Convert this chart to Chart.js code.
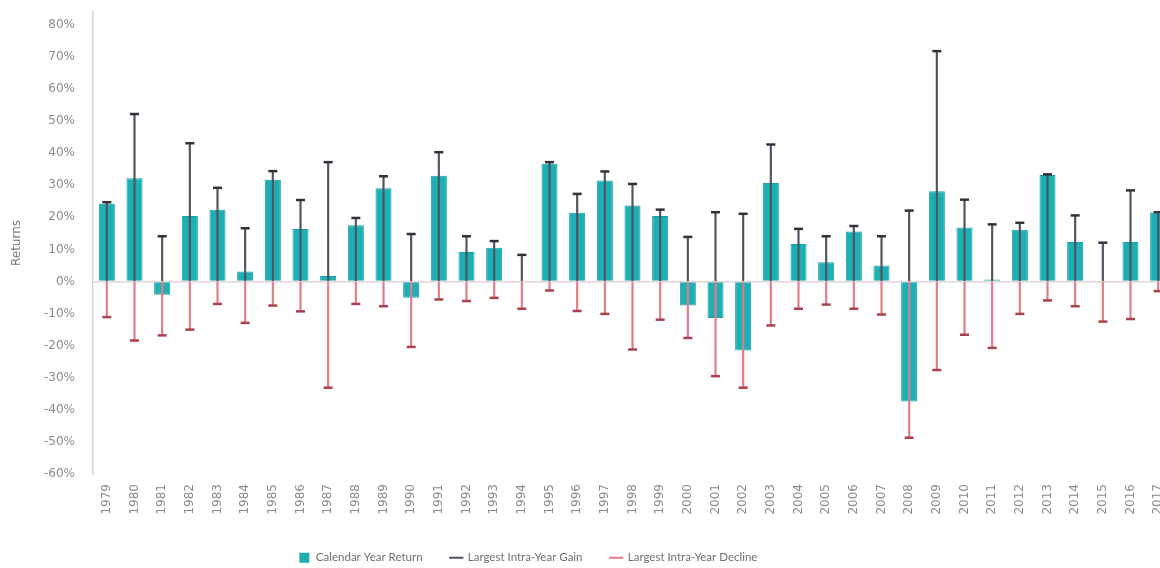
<!DOCTYPE html>
<html>
<head>
<meta charset="utf-8">
<title>Calendar Year Returns</title>
<script src="https://cdn.jsdelivr.net/npm/chart.js@4/dist/chart.umd.min.js"></script>
<style>
    html, body { margin: 0; padding: 0; background: #fff; }
    #wrap { width: 1160px; height: 568px; overflow: hidden; }
</style>
</head>
<body>
<div id="wrap"><canvas id="returnsChart" width="1182" height="568"></canvas></div>
<script>
// Chart data
const years = ['1979', '1980', '1981', '1982', '1983', '1984', '1985', '1986', '1987', '1988',
    '1989', '1990', '1991', '1992', '1993', '1994', '1995', '1996', '1997', '1998',
    '1999', '2000', '2001', '2002', '2003', '2004', '2005', '2006', '2007', '2008',
    '2009', '2010', '2011', '2012', '2013', '2014', '2015', '2016', '2017'];

const calendarReturns = [24.2, 32.2, -4.1, 20.4, 22.4, 3.1, 31.7, 16.4, 1.7, 17.5,
    29.1, -5.1, 33.0, 9.2, 10.5, 0, 36.7, 21.4, 31.5, 23.7,
    20.4, -7.5, -11.4, -21.5, 30.7, 11.7, 6.0, 15.6, 5.0, -37.4,
    28.1, 16.8, 0.6, 16.1, 33.2, 12.3, -0.3, 12.3, 21.6];

const intraYearGains = [24.7, 52.2, 14.1, 43.1, 29.2, 16.6, 34.4, 25.4, 37.2, 19.8,
    32.8, 14.8, 40.3, 14.1, 12.6, 8.3, 37.2, 27.3, 34.3, 30.4,
    22.4, 13.9, 21.6, 21.1, 42.7, 16.4, 14.1, 17.3, 14.1, 22.1,
    71.8, 25.5, 17.8, 18.3, 33.4, 20.6, 12.1, 28.4, 21.6];

const intraYearDeclines = [-11.1, -18.4, -16.8, -15.0, -7.0, -12.9, -7.5, -9.3, -33.1, -7.0,
    -7.7, -20.4, -5.6, -6.1, -5.1, -8.5, -2.8, -9.2, -10.1, -21.2,
    -11.9, -17.6, -29.5, -33.1, -13.7, -8.5, -7.2, -8.5, -10.3, -48.7,
    -27.6, -16.6, -20.7, -10.1, -5.9, -7.7, -12.5, -11.7, -3.0];

const legendNames = ['Calendar Year Return', 'Largest Intra-Year Gain', 'Largest Intra-Year Decline'];

const tealColor = '#1cb0b4';
const gainColor = '#4f5460';
const declineColor = '#e07b88';
const tickFont = { family: "'DejaVu Sans', sans-serif", size: 12 };
const legendFont = { family: "Lato, 'Liberation Sans', sans-serif", size: 11.5 };

// The legend in the original sits left of centre
const legendShift = {
    id: 'legendShift',
    afterLayout(chart) {
        chart.legend.left -= 58;
        chart.legend.right -= 58;
    }
};

document.addEventListener("DOMContentLoaded", function () {
    drawReturnsChart();
});

function drawReturnsChart() {
    const ctx = document.getElementById('returnsChart').getContext('2d');

    window.returnsChart = new Chart(ctx, {
        type: 'bar',
        data: {
            labels: years,
            datasets: [
                {
                    // whisker caps, drawn on top
                    type: 'line',
                    label: 'gainCap',
                    data: intraYearGains,
                    showLine: false,
                    pointStyle: 'line',
                    pointRadius: 4.5,
                    pointBorderWidth: 2.5,
                    pointBorderColor: '#30323a',
                    order: 1
                },
                {
                    type: 'line',
                    label: 'declineCap',
                    data: intraYearDeclines,
                    showLine: false,
                    pointStyle: 'line',
                    pointRadius: 4.5,
                    pointBorderWidth: 2.5,
                    pointBorderColor: '#a8424f',
                    order: 1
                },
                {
                    label: 'gainLine',
                    data: intraYearGains.map(v => [0, v]),
                    backgroundColor: gainColor,
                    barThickness: 1.5,
                    grouped: false,
                    order: 2
                },
                {
                    label: 'declineLine',
                    data: intraYearDeclines.map(v => [0, v]),
                    backgroundColor: declineColor,
                    barThickness: 1.5,
                    grouped: false,
                    order: 2
                },
                {
                    label: legendNames[0],
                    data: calendarReturns,
                    backgroundColor: tealColor,
                    borderColor: '#1a9fa4',
                    borderWidth: 1,
                    categoryPercentage: 1,
                    barPercentage: 0.58,
                    grouped: false,
                    order: 3
                }
            ]
        },
        plugins: [legendShift],
        options: {
            responsive: false,
            animation: false,
            layout: {
                padding: { top: 12, right: 10, bottom: -5.5, left: 0 }
            },
            plugins: {
                tooltip: { enabled: false },
                legend: {
                    position: 'bottom',
                    labels: {
                        usePointStyle: true,
                        boxHeight: 10,
                        padding: 28,
                        color: '#6f6f6f',
                        font: legendFont,
                        generateLabels: function () {
                            const colors = [tealColor, gainColor, declineColor];
                            return legendNames.map((name, i) => ({
                                text: name,
                                fillStyle: colors[i],
                                strokeStyle: colors[i],
                                lineWidth: i === 0 ? 0 : 2,
                                pointStyle: i === 0 ? 'rect' : 'line',
                                fontColor: '#6f6f6f',
                                hidden: false,
                                datasetIndex: i
                            }));
                        }
                    }
                }
            },
            scales: {
                x: {
                    grid: { display: false },
                    border: { display: false },
                    ticks: {
                        minRotation: 90,
                        maxRotation: 90,
                        autoSkip: false,
                        padding: 2,
                        color: '#8a8a8a',
                        font: tickFont
                    },
                    afterFit: function (scale) {
                        scale.height = 50;
                    }
                },
                y: {
                    min: -60,
                    max: 84,
                    border: { display: true, color: '#d4d4d4', width: 1.5 },
                    grid: {
                        drawTicks: false,
                        color: c => c.tick.value === 0 ? '#ead3d6' : 'rgba(0,0,0,0)',
                        lineWidth: 1.5
                    },
                    ticks: {
                        stepSize: 10,
                        includeBounds: false,
                        padding: 18,
                        color: '#8a8a8a',
                        font: tickFont,
                        callback: v => v + '%'
                    },
                    title: {
                        display: true,
                        text: 'Returns',
                        color: '#7a7a7a',
                        font: tickFont,
                        padding: { top: 10, bottom: 0 }
                    },
                    afterFit: function (scale) {
                        // fixed axis width; drop the label padding so the plot starts at the top
                        scale.width = 93;
                        scale.paddingTop = 0;
                        scale.paddingBottom = 0;
                    }
                }
            }
        }
    });
}
</script>
</body>
</html>
